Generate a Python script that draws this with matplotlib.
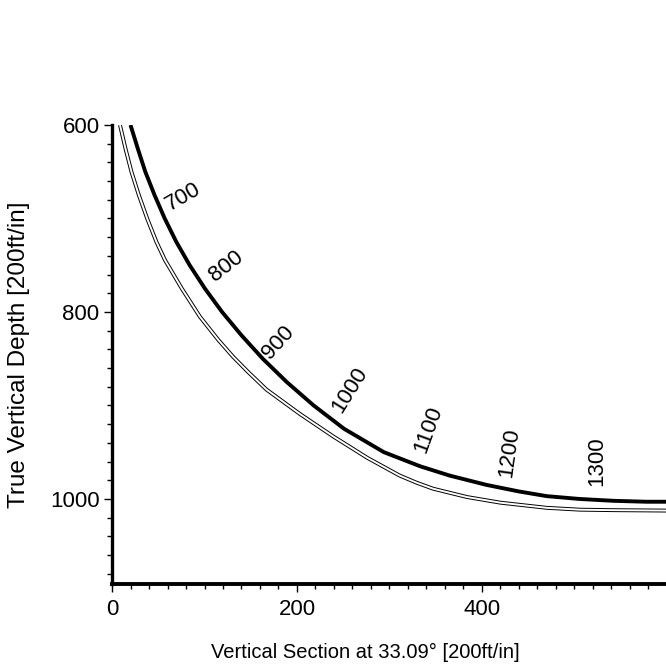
import matplotlib
matplotlib.use("Agg")
import matplotlib.pyplot as plt
from matplotlib.ticker import MultipleLocator

plt.rcParams["font.family"] = ["Liberation Sans", "DejaVu Sans"]

# planned well path (thick line): vertical section vs TVD
plan_vs = [20, 27.8, 36, 46, 57, 69.5, 84, 100.5, 119, 140, 163, 189, 218, 251,
           294, 333, 365, 405, 440, 470, 505, 542, 578, 605]
plan_tvd = [600, 625, 650, 675, 700, 725, 750, 775, 800, 825, 850, 875, 900, 925,
            950, 965, 975, 985, 992, 997, 1000, 1002, 1003, 1003]

# actual survey path (double line)
survey_vs = [8.6, 14.5, 21, 29, 38, 48, 57, 75.5, 95, 115, 131, 148, 167, 203, 239,
             276, 311, 329, 347, 384, 420, 470, 506, 542, 605]
survey_tvd = [600, 625, 650, 675, 700, 725, 744, 775, 805, 830, 848, 865, 883, 909, 933,
              956, 975, 982.5, 989, 998, 1004, 1009.5, 1011.5, 1012, 1012.5]

# measured depth annotations along the plan
md_labels = ["700", "800", "900", "1000", "1100", "1200", "1300"]
md_vs = [77, 123, 180, 257, 342, 430, 524]
md_tvd = [677, 751, 833, 883, 926, 950, 960]
md_rot = [30, 38, 48, 58, 70, 82, 90]

fig = plt.figure(figsize=(6.66, 6.65), dpi=100)
ax = fig.add_axes([0.1682, 0.1218, 0.8318, 0.6902])

ax.plot(survey_vs, survey_tvd, color="black", lw=2.8, solid_capstyle="butt", solid_joinstyle="round")
ax.plot(survey_vs, survey_tvd, color="white", lw=1.4, solid_capstyle="butt", solid_joinstyle="round")
ax.plot(plan_vs, plan_tvd, color="black", lw=2.8, solid_capstyle="butt", solid_joinstyle="round")

for lab, x, y, r in zip(md_labels, md_vs, md_tvd, md_rot):
    ax.text(x, y, lab, rotation=r, ha="center", va="center", fontsize=16)

ax.set_xlim(0, 599)
ax.set_ylim(1091, 600)

ax.xaxis.set_major_locator(MultipleLocator(200))
ax.xaxis.set_minor_locator(MultipleLocator(20))
ax.yaxis.set_major_locator(MultipleLocator(200))
ax.yaxis.set_minor_locator(MultipleLocator(20))

for side in ["top", "right"]:
    ax.spines[side].set_visible(False)
ax.spines["left"].set_linewidth(2.4)
ax.spines["bottom"].set_linewidth(2.8)

ax.tick_params(which="major", length=6, width=1.0, labelsize=16, pad=3)
ax.tick_params(which="minor", length=3.5, width=1.0)
ax.tick_params(axis="x", which="major", pad=5)

ax.set_xlabel("Vertical Section at 33.09° [200ft/in]", fontsize=14.5)
ax.set_ylabel("True Vertical Depth [200ft/in]", fontsize=17.5)
ax.xaxis.set_label_coords(0.458, -0.128)
ax.yaxis.set_label_coords(-0.148, 0.5)

fig.savefig("out.png", dpi=100)
